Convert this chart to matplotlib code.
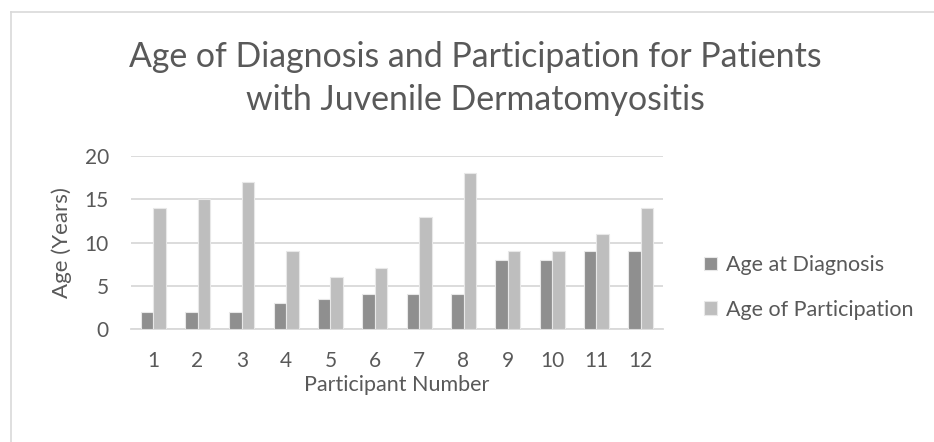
import matplotlib.pyplot as plt
import numpy as np

participants = [str(i) for i in range(1, 13)]
age_diagnosis = [2, 2, 2, 3, 3.5, 4, 4, 4, 8, 8, 9, 9]
age_participation = [14, 15, 17, 9, 6, 7, 13, 18, 9, 9, 11, 14]

txt = '#595959'
plt.rcParams['font.family'] = ['Lato', 'DejaVu Sans']

fig = plt.figure(figsize=(9.34, 4.42), dpi=100)
ax = fig.add_axes([131 / 934, 1 - 329 / 442, 532 / 934, 173 / 442])

x = np.arange(len(participants))
w = 0.283
ax.bar(x - w / 2, age_diagnosis, w, color='#8f8f8f', edgecolor='#e8e8e8',
       linewidth=0.8, label='Age at Diagnosis', zorder=3)
ax.bar(x + w / 2, age_participation, w, color='#bebebe', edgecolor='#e8e8e8',
       linewidth=0.8, label='Age of Participation', zorder=3)

ax.set_xlim(-0.5, len(participants) - 0.5)
ax.set_ylim(0, 20)
ax.set_yticks([0, 5, 10, 15, 20])
ax.set_xticks(x)
ax.set_xticklabels(participants)
ax.yaxis.grid(True, color='#d9d9d9', linewidth=1.3, zorder=0)
for s in ['top', 'right', 'left']:
    ax.spines[s].set_visible(False)
ax.spines['bottom'].set_color('#d9d9d9')
ax.spines['bottom'].set_linewidth(1.3)
ax.tick_params(axis='y', length=0, labelsize=15, colors=txt, pad=16)
ax.tick_params(axis='x', length=0, labelsize=15, colors=txt, pad=15.5)

ax.set_xlabel('Participant Number', fontsize=15.5, color=txt, va='center')
ax.xaxis.set_label_coords(0.5, -(385 - 329) / 173)
ax.set_ylabel('Age (Years)', fontsize=16, color=txt, va='center')
ax.yaxis.set_label_coords(-(131 - 62) / 532, 0.5)

# two-line title, centred over the chart area
fig.text(475 / 934, 1 - 67 / 442, 'Age of Diagnosis and Participation for Patients',
         ha='center', va='baseline', fontsize=24.4, color=txt)
fig.text(475 / 934, 1 - 110 / 442, 'with Juvenile Dermatomyositis',
         ha='center', va='baseline', fontsize=24.4, color=txt)

ax.legend(loc='center left', bbox_to_anchor=(704 / 934, 1 - 287.5 / 442),
          bbox_transform=fig.transFigure, frameon=False, borderpad=0,
          borderaxespad=0, fontsize=15.5, labelcolor=txt, handlelength=0.6,
          handleheight=0.6, handletextpad=0.4, labelspacing=1.15)

# chart frame (left and top edges fall inside the image)
fig.add_artist(plt.Line2D([11 / 934, 11 / 934], [0, 1 - 12 / 442],
                          transform=fig.transFigure, color='#d9d9d9', linewidth=1.2))
fig.add_artist(plt.Line2D([11 / 934, 1], [1 - 12 / 442, 1 - 12 / 442],
                          transform=fig.transFigure, color='#d9d9d9', linewidth=1.2))

fig.savefig('out.png', dpi=100, facecolor='white')
